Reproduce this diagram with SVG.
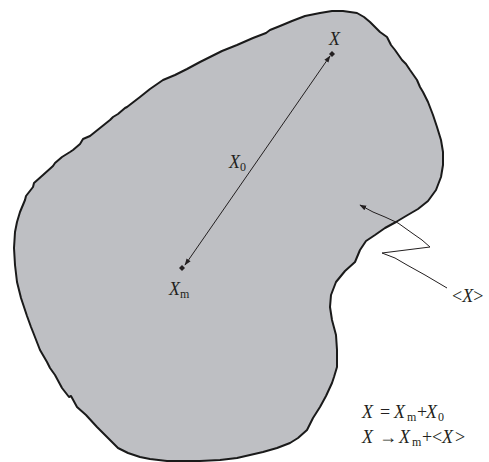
<svg xmlns="http://www.w3.org/2000/svg" width="489" height="462" viewBox="0 0 489 462">
<defs>
<style>
.t{font-family:"Liberation Serif","Times New Roman",serif;font-style:italic;font-size:18px;fill:#231f20}
.r{font-style:normal}
.s{font-style:normal;font-size:12px}
.ln{fill:none;stroke:#231f20;stroke-width:1}
.dot{fill:#231f20}
</style>
<marker id="ah" viewBox="0 0 10 10" refX="9" refY="5" markerWidth="7" markerHeight="7" orient="auto-start-reverse" markerUnits="userSpaceOnUse">
<path d="M0,1.5 L10,5 L0,8.5 Z" fill="#231f20"/>
</marker>
</defs>
<rect width="489" height="462" fill="#ffffff"/>
<g id="region">
<path d="M343,11 L357,13 L364,17 L370,22 L376,28 L380,32 L387,37 L391,45 L395,50 L402,60 L406,64 L410,70 L417,80 L420,87 L423,92 L428,102 L433,115 L435,121 L437,127 L441,140 L443,152 L443,165 L441,177 L436,190 L428,201 L418,209 L406,216 L396,222 L385,228 L375,235 L366,241 L360,250 L355,262 L345,271 L336,282 L331,295 L330,307 L332,320 L336,335 L337,350 L337,367 L334,377 L332,383 L326,396 L320,407 L313,418 L307,430 L298,438 L290,443 L277,448 L263,452 L250,455 L237,458 L220,460 L200,461 L183,461 L167,461 L150,459 L140,457 L128,453 L118,448 L108,438 L97,427 L86,415 L77,407 L71,396 L69,397 L62,388 L55,375 L50,368 L47,362 L40,350 L33,332 L31,327 L27,316 L21,298 L17,282 L15,265 L14,248 L15,232 L17,222 L20,212 L25,200 L26,196 L33,187 L34,183 L43,175 L53,166 L55,163 L62,157 L70,152 L73,150 L80,144 L83,139 L90,136 L100,128 L110,120 L113,117 L118,114 L125,108 L127,107 L140,97 L150,89 L163,80 L175,75 L187,69 L200,62 L212,56 L222,51 L237,45 L253,38 L266,33 L270,30 L280,26 L292,21 L305,16 L320,13 L332,11 Z" fill="#bebfc3" stroke="#1a1a1a" stroke-width="2" stroke-linejoin="round"/>
</g>
<g id="point-X">
<path class="dot" d="M332,51 L335,54 L332,57 L329,54 Z"/>
<text class="t" x="329" y="45">X</text>
</g>
<g id="point-Xm">
<path class="dot" d="M182,265 L185,268 L182,271 L179,268 Z"/>
<text class="t" x="169" y="295">X<tspan class="s" dy="3">m</tspan></text>
</g>
<g id="label-X0">
<text class="t" x="229" y="168">X<tspan class="s" dy="3">0</tspan></text>
</g>
<g id="label-avg">
<text class="t" x="452" y="302"><tspan class="r">&lt;</tspan>X<tspan class="r">&gt;</tspan></text>
</g>
<g id="equations">
<text class="t" y="418"><tspan x="362">X</tspan><tspan class="r" x="380">=</tspan><tspan x="394">X</tspan><tspan class="s" x="407" dy="3">m</tspan><tspan class="r" x="417" dy="-3">+</tspan><tspan x="426">X</tspan><tspan class="s" x="438" dy="3">0</tspan></text>
<text class="t" y="443"><tspan x="362">X</tspan><tspan class="r" x="379">→</tspan><tspan x="399">X</tspan><tspan class="s" x="412" dy="3">m</tspan><tspan class="r" x="422" dy="-3">+</tspan><tspan class="r" x="432">&lt;</tspan><tspan x="442">X</tspan><tspan class="r" x="455">&gt;</tspan></text>
</g>
<g id="connectors">
<line class="ln" x1="185" y1="265" x2="330" y2="56" marker-start="url(#ah)" marker-end="url(#ah)"/>
<polyline class="ln" points="447,288 425,275 407,265 395,258 382,253 430,247 422,240 412,233 405,228 398,223 385,217 373,212 360,205" marker-end="url(#ah)"/>
</g>
</svg>
